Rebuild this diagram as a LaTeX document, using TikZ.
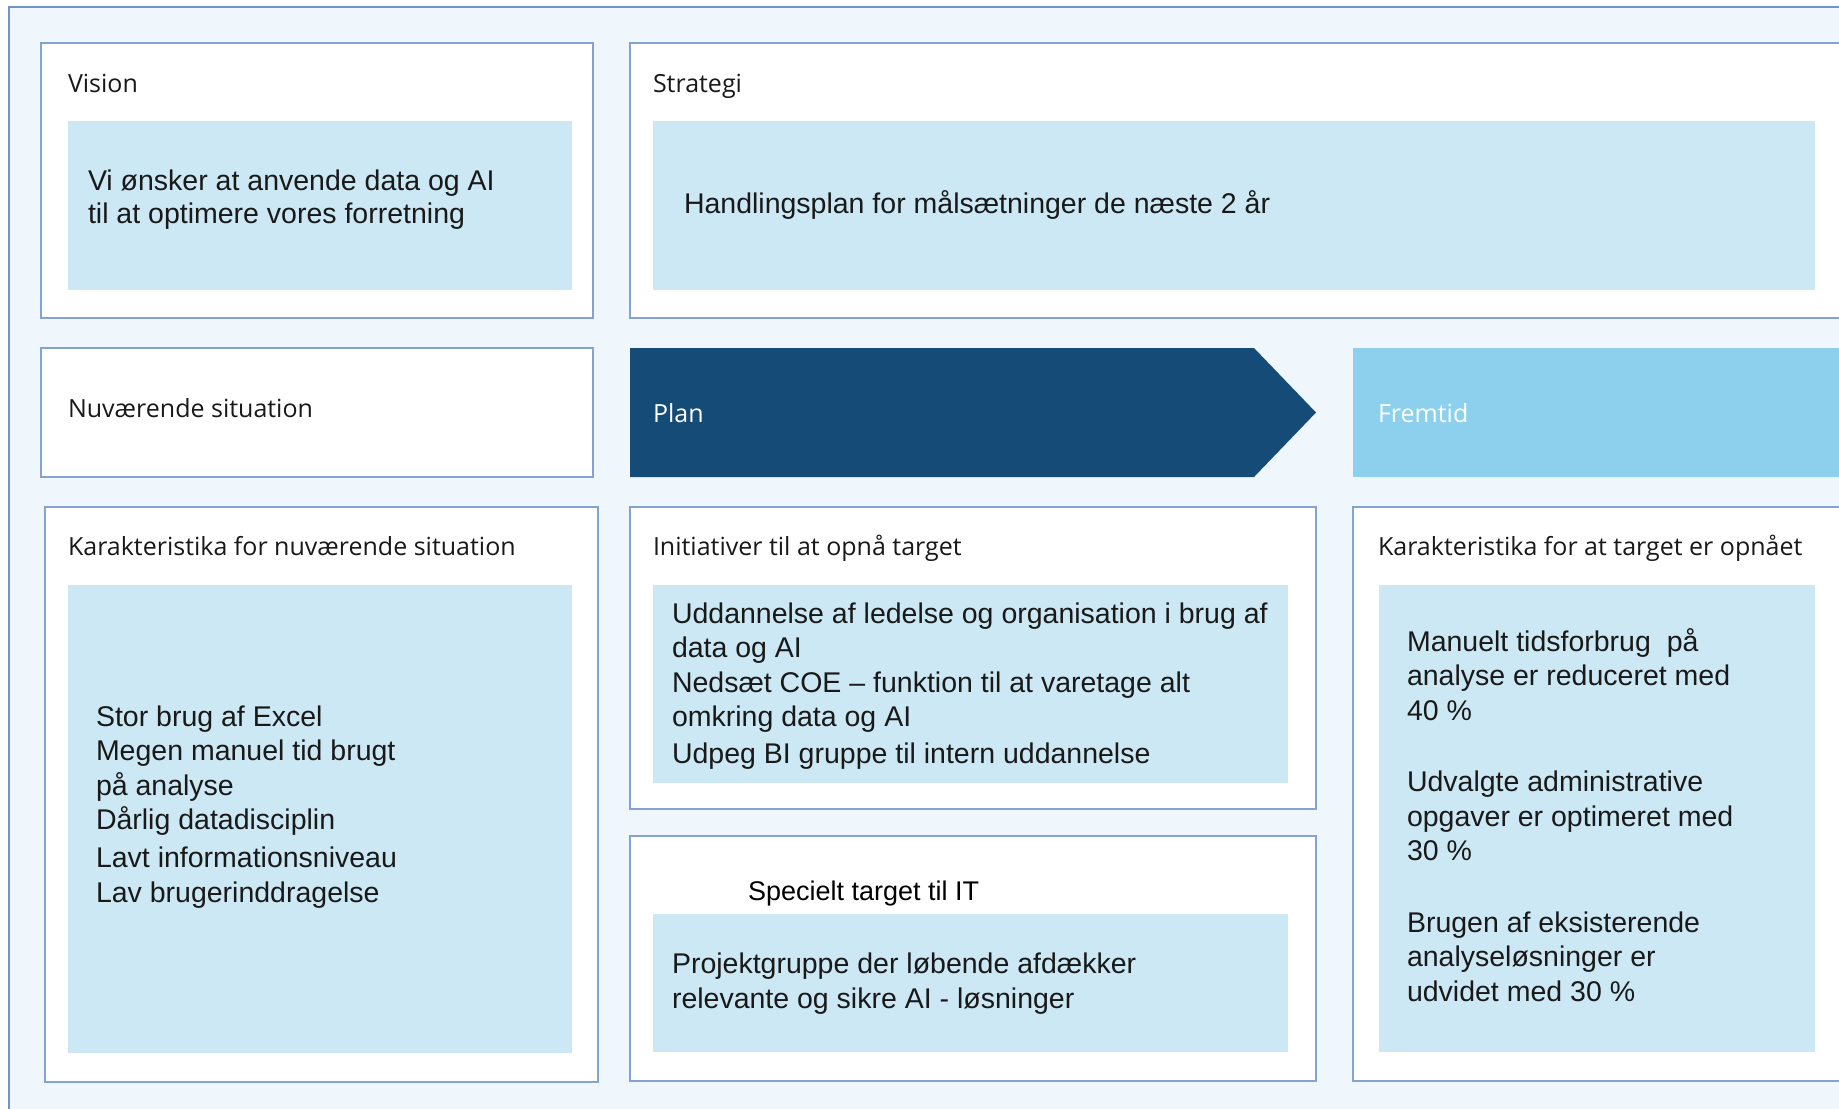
\documentclass[tikz,border=0pt]{standalone}
\usepackage{fontspec}
\setmainfont{Liberation Sans}
\newfontfamily\hdfont{Open Sans}
\usetikzlibrary{positioning,fit}
\definecolor{bgblue}{HTML}{EFF7FD}
\definecolor{frameblue}{HTML}{6F95C8}
\definecolor{lineblue}{HTML}{82A3D4}
\definecolor{cellblue}{HTML}{CCE8F4}
\definecolor{navy}{HTML}{154B77}
\definecolor{sky}{HTML}{8DD0EE}

\begin{document}
\begin{tikzpicture}[x=0.5pt,y=-0.5pt,
  every node/.style={inner sep=0pt,outer sep=0pt},%
  bx/.style={draw=lineblue,line width=0.7pt,fill=white},%
  cell/.style={fill=cellblue},%
  hd/.style={font=\hdfont\fontsize{12.5}{15}\selectfont,anchor=base west,
    text=black!90},%
  tx/.style={font=\fontsize{14.25}{17.25}\selectfont,anchor=base west,
    align=left,text=black!90},%
  ]
  \useasboundingbox (0,0) rectangle (1839,1108);
  \clip (0,0) rectangle (1839,1108);
  \node (frame) [fit={(9,7) (1900,1150)},fill=bgblue,draw=frameblue,line width=0.8pt] {};

  % top row
  \node (vision) [bx,fit={(41,43) (593,318)}] {};
  \node (visioncell) [cell,fit={(68,121) (572,290)}] {};
  \node (visionhd) [hd] at (68,92) {Vision};
  \node (visiontx) [tx,font=\fontsize{14.25}{16.5}\selectfont] at (88,223)
  {Vi ønsker at anvende data og AI\\til at optimere vores forretning};

  \node (strat) [bx,fit={(630,43) (1900,318)}] {};
  \node (stratcell) [cell,fit={(653,121) (1815,290)}] {};
  \node (strathd) [hd] at (653,92) {Strategi};
  \node (strattx) [tx] at (684,213) {Handlingsplan for målsætninger de næste 2 år};

  % phase row
  \node (now) [bx,fit={(41,348) (593,477)}] {};
  \node (nowhd) [hd] at (68,417) {Nuværende situation};
  \fill [navy] (630,348) -- (1254,348) -- (1316,412.5) -- (1254,477) -- (630,477) -- cycle;
  \node (planhd) [hd,text=white] at (653,422) {Plan};
  \node (future) [fit={(1353,348) (1900,477)},fill=sky] {};
  \node (futurehd) [hd,text=white] at (1378,422) {Fremtid};

  % bottom row
  \node (nowch) [bx,fit={(45,507) (598,1082)}] {};
  \node (nowchcell) [cell,fit={(68,585) (572,1053)}] {};
  \node (nowchhd) [hd] at (68,555) {Karakteristika for nuværende situation};
  \node (nowchtx) [tx] at (96,902) {Stor brug af Excel\\Megen manuel tid brugt\\på analyse\\
    Dårlig datadisciplin\\[1.75pt]Lavt informationsniveau\\Lav brugerinddragelse};

  \node (init) [bx,fit={(630,507) (1316,809)}] {};
  \node (initcell) [cell,fit={(653,585) (1288,783)}] {};
  \node (inithd) [hd] at (653,555) {Initiativer til at opnå target};
  \node (inittx) [tx] at (672,763) {Uddannelse af ledelse og organisation i brug af\\
    data og AI\\Nedsæt COE -- funktion til at varetage alt\\omkring data og AI\\[1pt]
    Udpeg BI gruppe til intern uddannelse};

  \node (it) [bx,fit={(630,836) (1316,1081)}] {};
  \node (itcell) [cell,fit={(653,914) (1288,1052)}] {};
  \node (ithd) [tx,font=\fontsize{13.5}{16}\selectfont,text=black] at (748,900) {Specielt target til IT};
  \node (ittx) [tx] at (672,1008) {Projektgruppe der løbende afdækker\\relevante og sikre AI - løsninger};

  \node (done) [bx,fit={(1353,507) (1900,1081)}] {};
  \node (donecell) [cell,fit={(1379,585) (1815,1052)}] {};
  \node (donehd) [hd] at (1378,555) {Karakteristika for at target er opnået};
  \node (donetx) [tx] at (1407,1001) {Manuelt tidsforbrug~ på\\analyse er reduceret med\\40 \%\\[18.5pt]
    Udvalgte administrative\\opgaver er optimeret med\\30 \%\\[18.5pt]
    Brugen af eksisterende\\analyseløsninger er\\udvidet med 30 \%};
\end{tikzpicture}
\end{document}
